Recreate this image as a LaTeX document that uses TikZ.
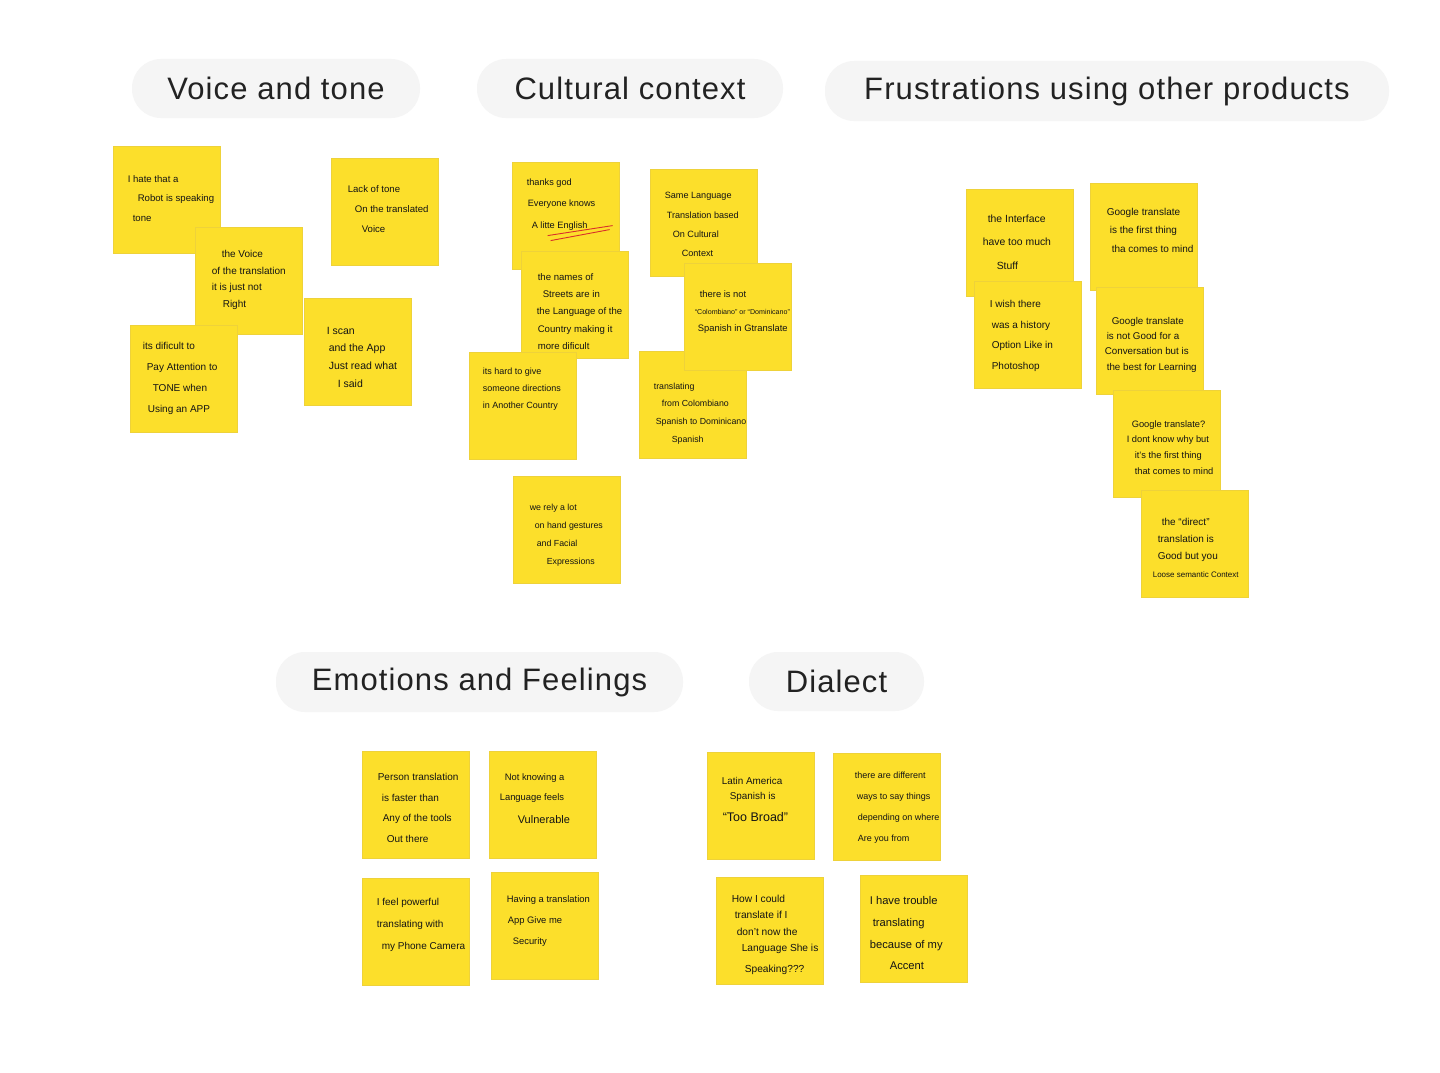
\documentclass[tikz,border=0pt]{standalone}
\usepackage{fontspec}
\setmainfont{Liberation Sans}
\newfontfamily\headfont[LetterSpace=3.6]{Liberation Sans}
\usetikzlibrary{shadows}

\definecolor{pillgray}{HTML}{F5F5F5}
\definecolor{headink}{HTML}{222222}
\definecolor{noteyl}{HTML}{FCDF2B}
\definecolor{notebd}{HTML}{EED23A}
\definecolor{pen}{HTML}{141414}
\definecolor{redpen}{HTML}{D8302A}

\tikzset{
  pill/.style={fill=pillgray, draw=none, rounded corners=29pt, inner sep=0pt,
    text=headink, font=\headfont\fontsize{31}{36}\selectfont},
  note/.style={fill=noteyl, draw=notebd, line width=0.8pt, inner sep=0pt,
    minimum width=107pt, minimum height=107pt,
    drop shadow={shadow xshift=0.6pt, shadow yshift=-0.8pt, opacity=0.12}},
  notetext/.style={inner sep=0pt, align=left, anchor=north west, text=pen,
    font=\fontsize{9.6}{19}\selectfont},
}

% size helper: \fs{size}{line distance}
\newcommand{\fs}[2]{\fontsize{#1}{#2}\selectfont}
% indent helper for handwritten lines
\newcommand{\ind}[1]{\hspace*{#1pt}}

% \sticky[text options]{name}{left}{top}{text offset}{text}
\newcommand{\sticky}[6][]{%
  \node[note] (#2) at (#3+53.5,#4+53.5) {};
  \node[notetext,#1] (#2-t) at ([shift={(#5)}]#2.north west) {#6};
}

\begin{document}
\begin{tikzpicture}[x=1pt,y=-1pt]
\useasboundingbox[fill=white] (0,0) rectangle (1440,1073);

% ---- group headers ----
\node[pill, minimum width=288pt, minimum height=59pt] (h-voice) at (276,88.5) {Voice and tone};
\node[pill, minimum width=306pt, minimum height=59pt] (h-culture) at (630,88.5) {Cultural context};
\node[pill, minimum width=564pt, minimum height=60pt] (h-frust) at (1107,91) {Frustrations using other products};
\node[pill, minimum width=407pt, minimum height=60pt] (h-emo) at (479.5,682) {Emotions and Feelings};
\node[pill, minimum width=175pt, minimum height=59pt] (h-dial) at (836.5,681.5) {Dialect};

% ---- voice and tone ----
\sticky[font=\fs{9.6}{19.5}]{vt1}{113}{146}{15,29.5}{I hate that a\\\ind{10}Robot is speaking\\\ind{5}tone}
\sticky[font=\fs{9.6}{20}]{vt2}{331}{158}{17,27.5}{Lack of tone\\\ind{7}On the translated\\\ind{14}Voice}
\sticky[font=\fs{10}{16.7}]{vt3}{195}{227}{17,23.3}{\ind{10}the Voice\\of the translation\\it is just not\\\ind{11}Right}
\sticky[font=\fs{10}{21}]{vt4}{130}{325}{13,17.3}{its dificult to\\\ind{4}Pay Attention to\\\ind{10}TONE when\\\ind{5}Using an APP}
\sticky[font=\fs{10.5}{17.7}]{vt5}{304}{298}{23,29}{I scan\\\ind{2}and the App\\\ind{2}Just read what\\\ind{11}I said}

% ---- cultural context ----
\sticky[font=\fs{9.2}{21.5}]{cc1}{512}{162}{15,16.7}{thanks god\\\ind{1}Everyone knows\\\ind{5}A litte English}
\draw[redpen, line width=0.9pt] ([shift={(36,74)}]cc1.north west) -- ([shift={(101,64)}]cc1.north west);
\draw[redpen, line width=0.9pt] ([shift={(39,79)}]cc1.north west) -- ([shift={(98,68)}]cc1.north west);
\sticky[font=\fs{9.6}{17.25}]{cc3}{521}{251}{16,22.5}{\ind{1}the names of\\\ind{6}Streets are in\\the Language of the\\\ind{1}Country making it\\\ind{1}more dificult}
\sticky[font=\fs{9}{17}]{cc5}{469}{352}{14,15.8}{its hard to give\\someone directions\\in Another Country}
\sticky[font=\fs{9.1}{19.3}]{cc2}{650}{169}{15,23.7}{Same Language\\\ind{2}Translation based\\\ind{8}On Cultural\\\ind{17}Context}
\sticky[font=\fs{8.8}{17.7}]{cc6}{639}{351}{15,32}{translating\\\ind{8}from Colombiano\\\ind{2}Spanish to Dominicano\\\ind{18}Spanish}
\sticky[font=\fs{9.4}{17}]{cc4}{684}{263}{11,27.6}{\ind{5}there is not\\{\fs{7.1}{17}``Colombiano'' or ``Dominicano''}\\\ind{3}Spanish in Gtranslate}
\sticky[font=\fs{8.8}{18.3}]{cc7}{513}{476}{17,27.9}{we rely a lot\\\ind{5}on hand gestures\\\ind{7}and Facial\\\ind{17}Expressions}

% ---- frustrations using other products ----
\sticky[font=\fs{10.4}{23.5}]{fr1}{966}{189}{17,26}{\ind{5}the Interface\\have too much\\\ind{14}Stuff}
\sticky[font=\fs{10}{18.5}]{fr2}{1090}{183}{17,25.3}{Google translate\\\ind{3}is the first thing\\\ind{5}tha comes to mind}
\sticky[font=\fs{10}{20.7}]{fr3}{974}{281}{16,19.3}{I wish there\\\ind{2}was a history\\\ind{2}Option Like in\\\ind{2}Photoshop}
\sticky[font=\fs{9.8}{15.3}]{fr4}{1096}{287}{9,30.4}{\ind{7}Google translate\\\ind{2}is not Good for a\\Conversation but is\\\ind{2}the best for Learning}
\sticky[font=\fs{9.3}{15.7}]{fr5}{1113}{390}{14,30.6}{\ind{5}Google translate?\\I dont know why but\\\ind{8}it's the first thing\\\ind{8}that comes to mind}
\sticky[font=\fs{10}{17.3}]{fr6}{1141}{490}{12,28.3}{\ind{9}the ``direct''\\\ind{5}translation is\\\ind{5}Good but you\\{\fs{8}{17.3}Loose semantic Context}}

% ---- emotions and feelings ----
\sticky[font=\fs{10}{20.7}]{ef1}{362}{751}{16,22.3}{Person translation\\\ind{4}is faster than\\\ind{5}Any of the tools\\\ind{9}Out there}
\sticky[font=\fs{9.4}{20}]{ef2}{489}{751}{11,22.6}{\ind{5}Not knowing a\\Language feels\\[3pt]\ind{18}{\fs{11}{20}Vulnerable}}
\sticky[font=\fs{10}{22}]{ef3}{362}{878}{15,20.1}{I feel powerful\\translating with\\\ind{5}my Phone Camera}
\sticky[font=\fs{9.4}{21}]{ef4}{491}{872}{16,23.6}{Having a translation\\\ind{1}App Give me\\\ind{6}Security}

% ---- dialect ----
\sticky[font=\fs{9.9}{15.5}]{di1}{707}{752}{15,25.3}{Latin America\\\ind{8}Spanish is\\[6pt]\ind{1}{\fs{12.5}{15.5}``Too Broad''}}
\sticky[font=\fs{9}{21}]{di2}{833}{753}{22,19.6}{there are different\\\ind{2}ways to say things\\\ind{3}depending on where\\\ind{3}Are you from}
\sticky[font=\fs{10.2}{16.5}]{di3}{716}{877}{16,18.2}{How I could\\\ind{3}translate if I\\\ind{5}don't now the\\\ind{10}Language She is\\[4pt]\ind{13}Speaking???}
\sticky[font=\fs{11.2}{21.7}]{di4}{860}{875}{10,21.7}{I have trouble\\\ind{3}translating\\because of my\\\ind{20}Accent}

\end{tikzpicture}
\end{document}
